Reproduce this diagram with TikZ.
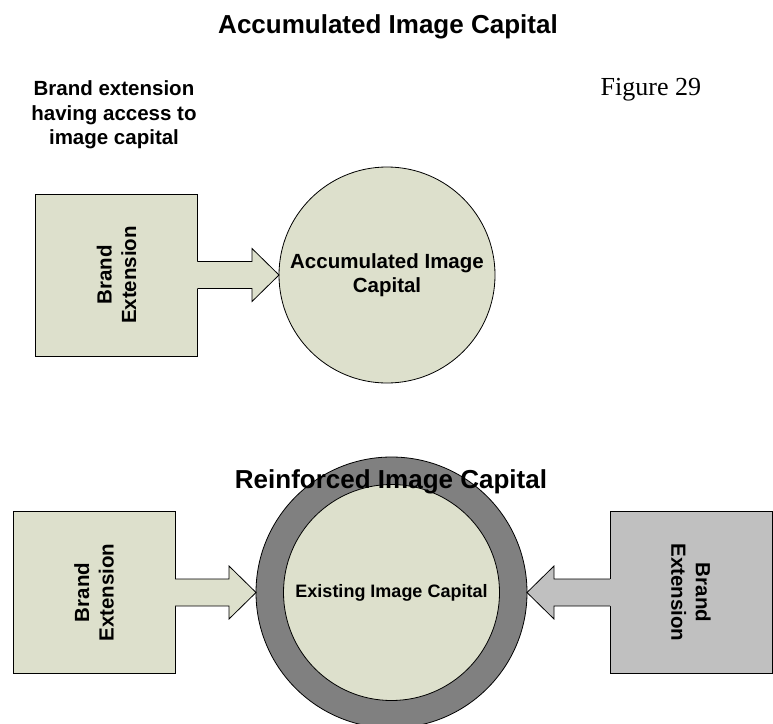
\documentclass[tikz,border=0pt]{standalone}
\usepackage{fontspec}
\setmainfont{Liberation Sans}
\newfontfamily\timesfont{Liberation Serif}
\usepackage[xetex]{xcolor}
\usepackage{tikz}
\usetikzlibrary{calc}
\definecolor{olivebox}{RGB}{221,224,204}
\definecolor{ringgray}{RGB}{128,128,128}
\definecolor{boxgray}{RGB}{192,192,192}

\begin{document}
\begin{tikzpicture}[x=1pt, y=-1pt, line width=0.8pt,
  box/.style={draw, fill=olivebox, minimum size=162pt, inner sep=0pt, outer sep=0pt},
  disc/.style={draw, circle, fill=olivebox, inner sep=0pt, outer sep=0pt},
  boxtext/.style={font=\bfseries\fontsize{20.5}{24.5}\selectfont, align=center},
  heading/.style={font=\bfseries\fontsize{26}{30}\selectfont, anchor=base}]
\useasboundingbox (0,0) rectangle (773,723);

%block arrow from #1 to #2, fill #3
\def\BlockArrow#1#2#3{
\coordinate (s) at ($(#1)!-1pt!(#2)$);
\coordinate (h) at ($(#2)!27pt!(#1)$);
\fill[#3] ($(s)!13.5pt!90:(#2)$) -- ($(h)!13.5pt!90:(#2)$) -- ($(h)!26.5pt!90:(#2)$)
  -- (#2) -- ($(h)!26.5pt!-90:(#2)$) -- ($(h)!13.5pt!-90:(#2)$) -- ($(s)!13.5pt!-90:(#2)$) -- cycle;
\draw ($(#1)!13.5pt!90:(#2)$) -- ($(h)!13.5pt!90:(#2)$) -- ($(h)!26.5pt!90:(#2)$)
  -- (#2) -- ($(h)!26.5pt!-90:(#2)$) -- ($(h)!13.5pt!-90:(#2)$) -- ($(#1)!13.5pt!-90:(#2)$);
}

%Accumulated Image Capital
\node[heading] (title1) at (388,33) {Accumulated Image Capital};
\node[boxtext] (access) at (114,115) {Brand extension\\having access to\\image capital};
\node[font=\timesfont\fontsize{26}{30}\selectfont, anchor=base west] (fig) at (597,95) {Figure 29};

\node[box] (ext1) at (116.5,275) {};
\node[boxtext, rotate=90] (ext1text) at (ext1) {Brand\\Extension};
\node[disc, minimum size=216pt, boxtext] (acc) at (387,275) {Accumulated Image\\Capital};
\BlockArrow{ext1.east}{acc.west}{olivebox}

%Reinforced Image Capital
\node[box] (ext2) at (94,592.5) {};
\node[boxtext, rotate=90] (ext2text) at (ext2) {Brand\\Extension};
\node[box, fill=boxgray] (ext3) at (691,592.5) {};
\node[boxtext, rotate=-90] (ext3text) at (ext3) {Brand\\Extension};

\node[disc, fill=ringgray, minimum size=271pt] (ring) at (391.5,592.5) {};
\node[disc, minimum size=216pt, font=\bfseries\fontsize{18}{22}\selectfont] (exist) at (ring) {Existing Image Capital};
\BlockArrow{ext2.east}{ring.west}{olivebox}
\BlockArrow{ext3.west}{ring.east}{boxgray}

\node[heading] (title2) at (391,488) {Reinforced Image Capital};
\end{tikzpicture}
\end{document}
